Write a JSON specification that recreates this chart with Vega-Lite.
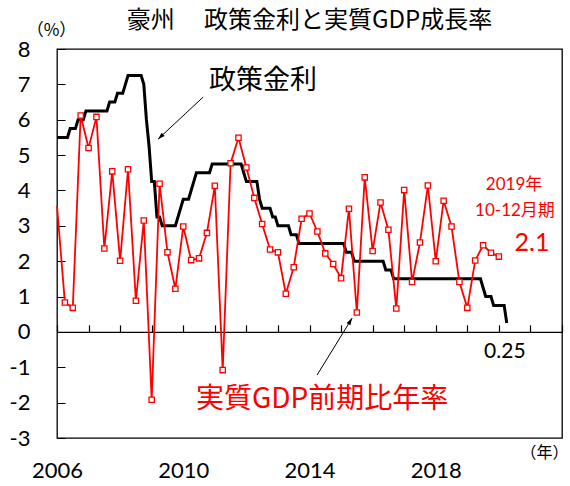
{
  "$schema": "https://vega.github.io/schema/vega-lite/v6.json",
  "width": 505,
  "height": 389,
  "autosize": {"type": "none"},
  "padding": {"left": 57, "top": 49, "right": 8, "bottom": 48},
  "background": "white",
  "title": {"text": "豪州　 政策金利と実質GDP成長率", "fontSize": 24, "font": "Noto Sans CJK JP", "fontWeight": "normal", "color": "black", "offset": 15, "dy": 27, "anchor": "middle"},
  "config": {"view": {"stroke": "black", "strokeWidth": 1.3}, "font": "Lato, Noto Sans CJK JP", "axis": {"labelOverlap": false}, "axisY": {"grid": false, "title": null, "labelOverlap": false}},
  "datasets": {
    "rate": [
      {"t": 2006.000, "rate": 5.5}, {"t": 2006.083, "rate": 5.5}, {"t": 2006.167, "rate": 5.5}, {"t": 2006.250, "rate": 5.5}, {"t": 2006.333, "rate": 5.5},
      {"t": 2006.417, "rate": 5.75}, {"t": 2006.500, "rate": 5.75}, {"t": 2006.583, "rate": 5.75}, {"t": 2006.667, "rate": 6.0}, {"t": 2006.750, "rate": 6.0},
      {"t": 2006.833, "rate": 6.0}, {"t": 2006.917, "rate": 6.25}, {"t": 2007.000, "rate": 6.25}, {"t": 2007.083, "rate": 6.25}, {"t": 2007.167, "rate": 6.25},
      {"t": 2007.250, "rate": 6.25}, {"t": 2007.333, "rate": 6.25}, {"t": 2007.417, "rate": 6.25}, {"t": 2007.500, "rate": 6.25}, {"t": 2007.583, "rate": 6.25},
      {"t": 2007.667, "rate": 6.5}, {"t": 2007.750, "rate": 6.5}, {"t": 2007.833, "rate": 6.5}, {"t": 2007.917, "rate": 6.75}, {"t": 2008.000, "rate": 6.75},
      {"t": 2008.083, "rate": 6.75}, {"t": 2008.167, "rate": 7.0}, {"t": 2008.250, "rate": 7.25}, {"t": 2008.333, "rate": 7.25}, {"t": 2008.417, "rate": 7.25},
      {"t": 2008.500, "rate": 7.25}, {"t": 2008.583, "rate": 7.25}, {"t": 2008.667, "rate": 7.25}, {"t": 2008.750, "rate": 7.0}, {"t": 2008.833, "rate": 6.0},
      {"t": 2008.917, "rate": 5.25}, {"t": 2009.000, "rate": 4.25}, {"t": 2009.083, "rate": 4.25}, {"t": 2009.167, "rate": 3.25}, {"t": 2009.250, "rate": 3.25},
      {"t": 2009.333, "rate": 3.0}, {"t": 2009.417, "rate": 3.0}, {"t": 2009.500, "rate": 3.0}, {"t": 2009.583, "rate": 3.0}, {"t": 2009.667, "rate": 3.0},
      {"t": 2009.750, "rate": 3.0}, {"t": 2009.833, "rate": 3.25}, {"t": 2009.917, "rate": 3.5}, {"t": 2010.000, "rate": 3.75}, {"t": 2010.083, "rate": 3.75},
      {"t": 2010.167, "rate": 3.75}, {"t": 2010.250, "rate": 4.0}, {"t": 2010.333, "rate": 4.25}, {"t": 2010.417, "rate": 4.5}, {"t": 2010.500, "rate": 4.5},
      {"t": 2010.583, "rate": 4.5}, {"t": 2010.667, "rate": 4.5}, {"t": 2010.750, "rate": 4.5}, {"t": 2010.833, "rate": 4.5}, {"t": 2010.917, "rate": 4.75},
      {"t": 2011.000, "rate": 4.75}, {"t": 2011.083, "rate": 4.75}, {"t": 2011.167, "rate": 4.75}, {"t": 2011.250, "rate": 4.75}, {"t": 2011.333, "rate": 4.75},
      {"t": 2011.417, "rate": 4.75}, {"t": 2011.500, "rate": 4.75}, {"t": 2011.583, "rate": 4.75}, {"t": 2011.667, "rate": 4.75}, {"t": 2011.750, "rate": 4.75},
      {"t": 2011.833, "rate": 4.75}, {"t": 2011.917, "rate": 4.5}, {"t": 2012.000, "rate": 4.25}, {"t": 2012.083, "rate": 4.25}, {"t": 2012.167, "rate": 4.25},
      {"t": 2012.250, "rate": 4.25}, {"t": 2012.333, "rate": 4.25}, {"t": 2012.417, "rate": 3.75}, {"t": 2012.500, "rate": 3.5}, {"t": 2012.583, "rate": 3.5},
      {"t": 2012.667, "rate": 3.5}, {"t": 2012.750, "rate": 3.5}, {"t": 2012.833, "rate": 3.25}, {"t": 2012.917, "rate": 3.25}, {"t": 2013.000, "rate": 3.0},
      {"t": 2013.083, "rate": 3.0}, {"t": 2013.167, "rate": 3.0}, {"t": 2013.250, "rate": 3.0}, {"t": 2013.333, "rate": 3.0}, {"t": 2013.417, "rate": 2.75},
      {"t": 2013.500, "rate": 2.75}, {"t": 2013.583, "rate": 2.75}, {"t": 2013.667, "rate": 2.5}, {"t": 2013.750, "rate": 2.5}, {"t": 2013.833, "rate": 2.5},
      {"t": 2013.917, "rate": 2.5}, {"t": 2014.000, "rate": 2.5}, {"t": 2014.083, "rate": 2.5}, {"t": 2014.167, "rate": 2.5}, {"t": 2014.250, "rate": 2.5},
      {"t": 2014.333, "rate": 2.5}, {"t": 2014.417, "rate": 2.5}, {"t": 2014.500, "rate": 2.5}, {"t": 2014.583, "rate": 2.5}, {"t": 2014.667, "rate": 2.5},
      {"t": 2014.750, "rate": 2.5}, {"t": 2014.833, "rate": 2.5}, {"t": 2014.917, "rate": 2.5}, {"t": 2015.000, "rate": 2.5}, {"t": 2015.083, "rate": 2.5},
      {"t": 2015.167, "rate": 2.25}, {"t": 2015.250, "rate": 2.25}, {"t": 2015.333, "rate": 2.25}, {"t": 2015.417, "rate": 2.0}, {"t": 2015.500, "rate": 2.0},
      {"t": 2015.583, "rate": 2.0}, {"t": 2015.667, "rate": 2.0}, {"t": 2015.750, "rate": 2.0}, {"t": 2015.833, "rate": 2.0}, {"t": 2015.917, "rate": 2.0},
      {"t": 2016.000, "rate": 2.0}, {"t": 2016.083, "rate": 2.0}, {"t": 2016.167, "rate": 2.0}, {"t": 2016.250, "rate": 2.0}, {"t": 2016.333, "rate": 2.0},
      {"t": 2016.417, "rate": 1.75}, {"t": 2016.500, "rate": 1.75}, {"t": 2016.583, "rate": 1.75}, {"t": 2016.667, "rate": 1.5}, {"t": 2016.750, "rate": 1.5},
      {"t": 2016.833, "rate": 1.5}, {"t": 2016.917, "rate": 1.5}, {"t": 2017.000, "rate": 1.5}, {"t": 2017.083, "rate": 1.5}, {"t": 2017.167, "rate": 1.5},
      {"t": 2017.250, "rate": 1.5}, {"t": 2017.333, "rate": 1.5}, {"t": 2017.417, "rate": 1.5}, {"t": 2017.500, "rate": 1.5}, {"t": 2017.583, "rate": 1.5},
      {"t": 2017.667, "rate": 1.5}, {"t": 2017.750, "rate": 1.5}, {"t": 2017.833, "rate": 1.5}, {"t": 2017.917, "rate": 1.5}, {"t": 2018.000, "rate": 1.5},
      {"t": 2018.083, "rate": 1.5}, {"t": 2018.167, "rate": 1.5}, {"t": 2018.250, "rate": 1.5}, {"t": 2018.333, "rate": 1.5}, {"t": 2018.417, "rate": 1.5},
      {"t": 2018.500, "rate": 1.5}, {"t": 2018.583, "rate": 1.5}, {"t": 2018.667, "rate": 1.5}, {"t": 2018.750, "rate": 1.5}, {"t": 2018.833, "rate": 1.5},
      {"t": 2018.917, "rate": 1.5}, {"t": 2019.000, "rate": 1.5}, {"t": 2019.083, "rate": 1.5}, {"t": 2019.167, "rate": 1.5}, {"t": 2019.250, "rate": 1.5},
      {"t": 2019.333, "rate": 1.5}, {"t": 2019.417, "rate": 1.5}, {"t": 2019.500, "rate": 1.25}, {"t": 2019.583, "rate": 1.0}, {"t": 2019.667, "rate": 1.0},
      {"t": 2019.750, "rate": 1.0}, {"t": 2019.833, "rate": 0.75}, {"t": 2019.917, "rate": 0.75}, {"t": 2020.000, "rate": 0.75}, {"t": 2020.083, "rate": 0.75},
      {"t": 2020.167, "rate": 0.75}, {"t": 2020.250, "rate": 0.25}
    ],
    "gdp": [
      {"q": "2005Q4", "t": 2006.00, "g": 3.57}, {"q": "2006Q1", "t": 2006.25, "g": 0.83}, {"q": "2006Q2", "t": 2006.50, "g": 0.68}, {"q": "2006Q3", "t": 2006.75, "g": 6.12},
      {"q": "2006Q4", "t": 2007.00, "g": 5.20}, {"q": "2007Q1", "t": 2007.25, "g": 6.08}, {"q": "2007Q2", "t": 2007.50, "g": 2.36}, {"q": "2007Q3", "t": 2007.75, "g": 4.54},
      {"q": "2007Q4", "t": 2008.00, "g": 2.01}, {"q": "2008Q1", "t": 2008.25, "g": 4.60}, {"q": "2008Q2", "t": 2008.50, "g": 0.88}, {"q": "2008Q3", "t": 2008.75, "g": 3.15},
      {"q": "2008Q4", "t": 2009.00, "g": -1.92}, {"q": "2009Q1", "t": 2009.25, "g": 4.19}, {"q": "2009Q2", "t": 2009.50, "g": 2.25}, {"q": "2009Q3", "t": 2009.75, "g": 1.22},
      {"q": "2009Q4", "t": 2010.00, "g": 2.98}, {"q": "2010Q1", "t": 2010.25, "g": 2.03}, {"q": "2010Q2", "t": 2010.50, "g": 2.08}, {"q": "2010Q3", "t": 2010.75, "g": 2.80},
      {"q": "2010Q4", "t": 2011.00, "g": 4.13}, {"q": "2011Q1", "t": 2011.25, "g": -1.08}, {"q": "2011Q2", "t": 2011.50, "g": 4.77}, {"q": "2011Q3", "t": 2011.75, "g": 5.49},
      {"q": "2011Q4", "t": 2012.00, "g": 4.65}, {"q": "2012Q1", "t": 2012.25, "g": 3.79}, {"q": "2012Q2", "t": 2012.50, "g": 3.05}, {"q": "2012Q3", "t": 2012.75, "g": 2.33},
      {"q": "2012Q4", "t": 2013.00, "g": 2.25}, {"q": "2013Q1", "t": 2013.25, "g": 1.08}, {"q": "2013Q2", "t": 2013.50, "g": 1.83}, {"q": "2013Q3", "t": 2013.75, "g": 3.20},
      {"q": "2013Q4", "t": 2014.00, "g": 3.35}, {"q": "2014Q1", "t": 2014.25, "g": 2.84}, {"q": "2014Q2", "t": 2014.50, "g": 2.22}, {"q": "2014Q3", "t": 2014.75, "g": 1.92},
      {"q": "2014Q4", "t": 2015.00, "g": 1.52}, {"q": "2015Q1", "t": 2015.25, "g": 3.48}, {"q": "2015Q2", "t": 2015.50, "g": 0.55}, {"q": "2015Q3", "t": 2015.75, "g": 4.37},
      {"q": "2015Q4", "t": 2016.00, "g": 2.29}, {"q": "2016Q1", "t": 2016.25, "g": 3.66}, {"q": "2016Q2", "t": 2016.50, "g": 2.89}, {"q": "2016Q3", "t": 2016.75, "g": 0.66},
      {"q": "2016Q4", "t": 2017.00, "g": 4.01}, {"q": "2017Q1", "t": 2017.25, "g": 1.41}, {"q": "2017Q2", "t": 2017.50, "g": 2.53}, {"q": "2017Q3", "t": 2017.75, "g": 4.14},
      {"q": "2017Q4", "t": 2018.00, "g": 2.00}, {"q": "2018Q1", "t": 2018.25, "g": 3.71}, {"q": "2018Q2", "t": 2018.50, "g": 2.98}, {"q": "2018Q3", "t": 2018.75, "g": 1.41},
      {"q": "2018Q4", "t": 2019.00, "g": 0.68}, {"q": "2019Q1", "t": 2019.25, "g": 2.02}, {"q": "2019Q2", "t": 2019.50, "g": 2.45}, {"q": "2019Q3", "t": 2019.75, "g": 2.24},
      {"q": "2019Q4", "t": 2020.00, "g": 2.13}
    ],
    "notes": [
      {"label": "政策金利", "t": 2012.53, "v": 7.10},
      {"label": "実質GDP前期比年率", "t": 2014.40, "v": -1.93},
      {"label": "2019年", "t": 2020.48, "v": 4.15},
      {"label": "10-12月期", "t": 2020.51, "v": 3.42},
      {"label": "2.1", "t": 2021.05, "v": 2.51},
      {"label": "0.25", "t": 2020.19, "v": -0.57}
    ],
    "arrows": [
      {"name": "rate", "t": 2010.63, "v": 6.64, "t2": 2009.20, "v2": 5.45},
      {"name": "gdp", "t": 2014.24, "v": -1.22, "t2": 2015.35, "v2": 0.39}
    ]
  },
  "layer": [
    {
      "data": {"name": "rate"},
      "mark": {"type": "line", "color": "black", "strokeWidth": 3},
      "encoding": {
        "x": {"field": "t", "type": "quantitative", "scale": {"domain": [2006, 2022], "nice": false, "zero": false},
          "axis": {"orient": "bottom", "values": [2006, 2010, 2014, 2018], "tickCount": 20, "format": "d", "ticks": false, "domain": false, "grid": false, "labelFlush": false,
            "labelFontSize": 22, "labelColor": "black", "labelPadding": 22, "labelFont": "Lato",
            "title": "（年）", "titleX": 487, "titleY": 14, "titleAlign": "center", "titleBaseline": "middle", "titleFontSize": 16, "titleFontWeight": "normal", "titleFont": "Noto Sans CJK JP", "titleColor": "black"}},
        "y": {"field": "rate", "type": "quantitative", "scale": {"domain": [-3, 8], "nice": false, "zero": false},
          "axis": {"orient": "left", "values": [-3, -2, -1, 0, 1, 2, 3, 4, 5, 6, 7, 8], "tickCount": 20, "labelExpr": "'' + datum.value", "labelOverlap": false, "domain": false, "grid": false, "labelFlush": false,
            "tickSize": -8, "tickColor": "black", "tickWidth": 1, "labelPadding": 35, "labelFontSize": 22, "labelColor": "black", "labelFont": "Lato",
            "title": "（%）", "titleAngle": 0, "titleX": -6, "titleY": -19, "titleAlign": "center", "titleBaseline": "middle", "titleFontSize": 17, "titleFontWeight": "normal", "titleFont": "Noto Sans CJK JP", "titleColor": "black"}}
      }
    },
    {
      "data": {"name": "gdp"},
      "mark": {"type": "line", "color": "#ff0000", "strokeWidth": 1.8},
      "encoding": {
        "x": {"field": "t", "type": "quantitative",
          "axis": {"orient": "top", "offset": -282.9, "values": [2006, 2007, 2008, 2009, 2010, 2011, 2012, 2013, 2014, 2015, 2016, 2017, 2018, 2019, 2020, 2021, 2022], "tickCount": 30,
            "labels": false, "title": null, "grid": false, "domain": true, "domainColor": "black", "domainWidth": 1.2, "tickColor": "black", "tickSize": 7, "tickWidth": 1.2}},
        "y": {"field": "g", "type": "quantitative", "axis": {"labelOverlap": false}}
      }
    },
    {
      "data": {"name": "gdp"},
      "transform": [{"filter": "datum.q != '2005Q4'"}],
      "mark": {"type": "point", "shape": "square", "filled": true, "fill": "white", "stroke": "#ff0000", "strokeWidth": 1.3, "size": 28, "opacity": 1},
      "encoding": {
        "x": {"field": "t", "type": "quantitative", "axis": null},
        "y": {"field": "g", "type": "quantitative", "axis": {"labelOverlap": false}}
      }
    },
    {
      "data": {"name": "arrows"},
      "mark": {"type": "rule", "color": "black", "strokeWidth": 1},
      "encoding": {
        "x": {"field": "t", "type": "quantitative", "axis": null},
        "y": {"field": "v", "type": "quantitative", "axis": {"labelOverlap": false}},
        "x2": {"field": "t2"},
        "y2": {"field": "v2"}
      }
    },
    {
      "data": {"name": "arrows"},
      "transform": [{"filter": "datum.name == 'rate'"}],
      "mark": {"type": "point", "shape": "M0,0L0.45,1.4L-0.45,1.4Z", "filled": true, "color": "black", "size": 100, "angle": 227, "opacity": 1},
      "encoding": {
        "x": {"field": "t2", "type": "quantitative", "axis": null},
        "y": {"field": "v2", "type": "quantitative", "axis": {"labelOverlap": false}}
      }
    },
    {
      "data": {"name": "arrows"},
      "transform": [{"filter": "datum.name == 'gdp'"}],
      "mark": {"type": "point", "shape": "M0,0L0.45,1.4L-0.45,1.4Z", "filled": true, "color": "black", "size": 100, "angle": 31, "opacity": 1},
      "encoding": {
        "x": {"field": "t2", "type": "quantitative", "axis": null},
        "y": {"field": "v2", "type": "quantitative", "axis": {"labelOverlap": false}}
      }
    },
    {
      "data": {"name": "notes"},
      "transform": [{"filter": "datum.label == '政策金利'"}],
      "mark": {"type": "text", "font": "Noto Sans CJK JP", "fontSize": 27, "color": "black", "align": "center", "baseline": "middle"},
      "encoding": {
        "x": {"field": "t", "type": "quantitative", "axis": null},
        "y": {"field": "v", "type": "quantitative", "axis": {"labelOverlap": false}},
        "text": {"field": "label"}
      }
    },
    {
      "data": {"name": "notes"},
      "transform": [{"filter": "datum.label == '実質GDP前期比年率'"}],
      "mark": {"type": "text", "font": "Noto Sans CJK JP", "fontSize": 28, "color": "#ff0000", "align": "center", "baseline": "middle"},
      "encoding": {
        "x": {"field": "t", "type": "quantitative", "axis": null},
        "y": {"field": "v", "type": "quantitative", "axis": {"labelOverlap": false}},
        "text": {"field": "label"}
      }
    },
    {
      "data": {"name": "notes"},
      "transform": [{"filter": "datum.label == '2019年' || datum.label == '10-12月期'"}],
      "mark": {"type": "text", "font": "Lato, Noto Sans CJK JP", "fontSize": 17, "color": "#ff0000", "align": "center", "baseline": "middle"},
      "encoding": {
        "x": {"field": "t", "type": "quantitative", "axis": null},
        "y": {"field": "v", "type": "quantitative", "axis": {"labelOverlap": false}},
        "text": {"field": "label"}
      }
    },
    {
      "data": {"name": "notes"},
      "transform": [{"filter": "datum.label == '2.1'"}],
      "mark": {"type": "text", "font": "Lato", "fontSize": 25, "color": "#ff0000", "align": "center", "baseline": "middle"},
      "encoding": {
        "x": {"field": "t", "type": "quantitative", "axis": null},
        "y": {"field": "v", "type": "quantitative", "axis": {"labelOverlap": false}},
        "text": {"field": "label"}
      }
    },
    {
      "data": {"name": "notes"},
      "transform": [{"filter": "datum.label == '0.25'"}],
      "mark": {"type": "text", "font": "Lato", "fontSize": 21, "color": "black", "align": "center", "baseline": "middle"},
      "encoding": {
        "x": {"field": "t", "type": "quantitative", "axis": null},
        "y": {"field": "v", "type": "quantitative", "axis": {"labelOverlap": false}},
        "text": {"field": "label"}
      }
    }
  ],
  "resolve": {"axis": {"x": "independent"}}
}
